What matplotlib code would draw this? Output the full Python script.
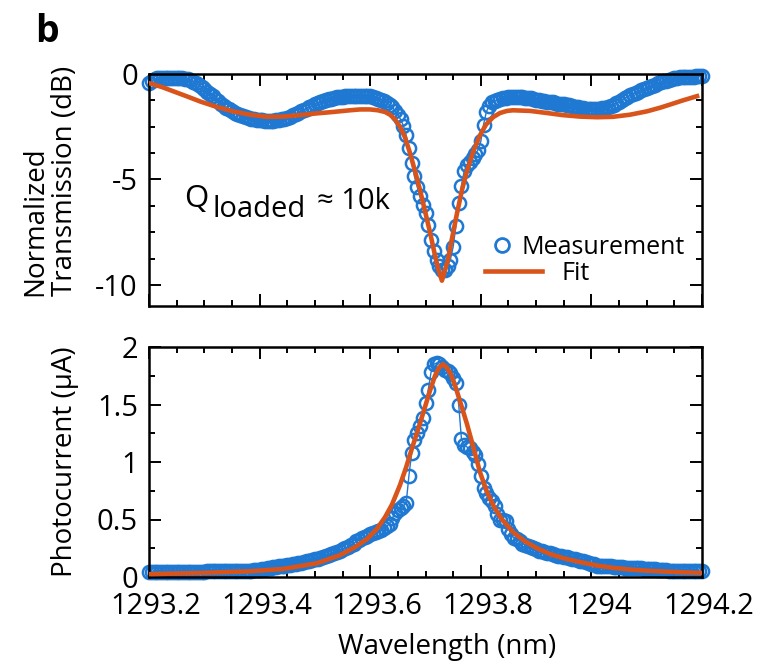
import numpy as np
import matplotlib
matplotlib.use("Agg")
import matplotlib.pyplot as plt
import matplotlib.transforms as mtransforms
from matplotlib.lines import Line2D
from matplotlib.ticker import MultipleLocator, FuncFormatter

plt.rcParams['font.family'] = ['Open Sans', 'DejaVu Sans']
plt.rcParams['axes.unicode_minus'] = False

# Wavelength sweep (nm): start and step of the uniform scan
wavelength_start = 1293.2
wavelength_step = 0.005

# Measured normalized transmission (dB), one value per sweep step
transmission_db = [
    -0.45, -0.31, -0.23, -0.21, -0.20, -0.19, -0.19, -0.18, -0.18, -0.19,
    -0.19, -0.20, -0.21, -0.23, -0.26, -0.30, -0.36, -0.44, -0.53, -0.62,
    -0.71, -0.83, -0.94, -1.06, -1.18, -1.28, -1.40, -1.50, -1.60, -1.68,
    -1.77, -1.84, -1.90, -1.95, -2.00, -2.04, -2.08, -2.11, -2.14, -2.17,
    -2.19, -2.20, -2.22, -2.22, -2.22, -2.22, -2.20, -2.18, -2.15, -2.11,
    -2.07, -2.02, -1.96, -1.90, -1.84, -1.77, -1.70, -1.64, -1.57, -1.50,
    -1.44, -1.39, -1.33, -1.28, -1.24, -1.20, -1.17, -1.14, -1.11, -1.09,
    -1.07, -1.05, -1.04, -1.04, -1.03, -1.03, -1.03, -1.03, -1.04, -1.04,
    -1.05, -1.08, -1.12, -1.17, -1.23, -1.30, -1.37, -1.46, -1.57, -1.75,
    -1.94, -2.15, -2.45, -2.90, -3.50, -4.20, -4.85, -5.35, -5.80, -6.20,
    -6.60, -7.15, -7.85, -8.40, -8.80, -9.10, -9.30, -9.30, -9.10, -8.80,
    -8.20, -7.20, -6.10, -5.30, -4.60, -4.30, -4.15, -4.00, -3.80, -3.60,
    -3.20, -2.40, -1.80, -1.50, -1.35, -1.28, -1.22, -1.18, -1.16, -1.14,
    -1.11, -1.10, -1.10, -1.10, -1.10, -1.11, -1.12, -1.14, -1.15, -1.18,
    -1.21, -1.24, -1.26, -1.29, -1.31, -1.33, -1.35, -1.37, -1.40, -1.42,
    -1.44, -1.46, -1.49, -1.52, -1.55, -1.58, -1.60, -1.62, -1.64, -1.65,
    -1.65, -1.65, -1.65, -1.65, -1.63, -1.60, -1.57, -1.53, -1.46, -1.39,
    -1.32, -1.25, -1.16, -1.08, -1.00, -0.94, -0.89, -0.83, -0.78, -0.72,
    -0.67, -0.61, -0.56, -0.50, -0.44, -0.39, -0.35, -0.31, -0.27, -0.24,
    -0.21, -0.18, -0.15, -0.14, -0.14, -0.13, -0.12, -0.12, -0.11, -0.11,
    -0.10,
]

# Measured photocurrent (uA), same sweep
photocurrent_ua = [
    0.040, 0.045, 0.045, 0.045, 0.045, 0.045, 0.045, 0.045, 0.045, 0.045,
    0.045, 0.045, 0.045, 0.045, 0.045, 0.045, 0.045, 0.045, 0.045, 0.045,
    0.045, 0.048, 0.048, 0.048, 0.048, 0.048, 0.048, 0.050, 0.050, 0.050,
    0.050, 0.050, 0.050, 0.050, 0.052, 0.054, 0.055, 0.056, 0.060, 0.062,
    0.065, 0.070, 0.073, 0.077, 0.080, 0.085, 0.090, 0.094, 0.098, 0.100,
    0.105, 0.108, 0.110, 0.115, 0.120, 0.122, 0.130, 0.135, 0.140, 0.148,
    0.155, 0.160, 0.168, 0.175, 0.183, 0.190, 0.197, 0.205, 0.215, 0.230,
    0.240, 0.250, 0.260, 0.275, 0.290, 0.310, 0.325, 0.335, 0.350, 0.360,
    0.370, 0.380, 0.390, 0.400, 0.410, 0.425, 0.440, 0.465, 0.510, 0.560,
    0.580, 0.600, 0.620, 0.640, 0.880, 1.080, 1.190, 1.250, 1.310, 1.380,
    1.510, 1.630, 1.780, 1.850, 1.860, 1.850, 1.830, 1.800, 1.790, 1.770,
    1.730, 1.690, 1.500, 1.200, 1.150, 1.130, 1.120, 1.090, 1.060, 0.980,
    0.880, 0.770, 0.730, 0.690, 0.660, 0.620, 0.550, 0.500, 0.500, 0.490,
    0.420, 0.370, 0.340, 0.330, 0.310, 0.290, 0.280, 0.270, 0.260, 0.250,
    0.240, 0.230, 0.225, 0.220, 0.210, 0.205, 0.200, 0.190, 0.185, 0.180,
    0.175, 0.170, 0.165, 0.160, 0.155, 0.150, 0.140, 0.135, 0.130, 0.120,
    0.115, 0.110, 0.100, 0.100, 0.098, 0.096, 0.094, 0.092, 0.090, 0.088,
    0.086, 0.084, 0.082, 0.081, 0.080, 0.078, 0.077, 0.076, 0.075, 0.073,
    0.072, 0.070, 0.068, 0.066, 0.064, 0.062, 0.060, 0.058, 0.056, 0.055,
    0.053, 0.052, 0.050, 0.050, 0.050, 0.050, 0.050, 0.050, 0.050, 0.050,
    0.050,
]

# Fitted transmission curve
fit_trans_nm = [
    1293.2000, 1293.2235, 1293.2470, 1293.2705, 1293.2922, 1293.3212,
    1293.3519, 1293.3826, 1293.4134, 1293.4423, 1293.4731, 1293.5020,
    1293.5327, 1293.5635, 1293.5816, 1293.5996, 1293.6141, 1293.6268,
    1293.6358, 1293.6448, 1293.6539, 1293.6629, 1293.6720, 1293.6810,
    1293.6901, 1293.6991, 1293.7081, 1293.7172, 1293.7226, 1293.7297,
    1293.7353, 1293.7407, 1293.7479, 1293.7570, 1293.7660, 1293.7750,
    1293.7859, 1293.7986, 1293.8094, 1293.8221, 1293.8347, 1293.8474,
    1293.8582, 1293.8890, 1293.9197, 1293.9486, 1293.9794, 1294.0101,
    1294.0391, 1294.0698, 1294.1005, 1294.1241, 1294.1421, 1294.1656,
    1294.1910,
]
fit_trans_db = [
    -0.43, -0.62, -0.85, -1.08, -1.30, -1.55,
    -1.77, -1.93, -2.03, -2.02, -1.95, -1.87,
    -1.80, -1.72, -1.68, -1.68, -1.72, -1.80,
    -1.93, -2.15, -2.50, -3.00, -3.75, -4.60,
    -5.50, -6.50, -7.50, -8.60, -9.20, -9.80,
    -9.30, -8.80, -7.80, -6.60, -5.50, -4.60,
    -3.70, -2.90, -2.40, -2.05, -1.85, -1.75,
    -1.72, -1.75, -1.85, -1.95, -2.02, -2.05,
    -2.03, -1.93, -1.77, -1.60, -1.45, -1.25,
    -1.05,
]

# Fitted photocurrent curve
fit_photo_nm = [
    1293.2000, 1293.2922, 1293.3826, 1293.4423, 1293.5038, 1293.5454,
    1293.5725, 1293.5942, 1293.6123, 1293.6268, 1293.6394, 1293.6539,
    1293.6647, 1293.6756, 1293.6864, 1293.6973, 1293.7081, 1293.7172,
    1293.7244, 1293.7316, 1293.7389, 1293.7461, 1293.7552, 1293.7642,
    1293.7750, 1293.7859, 1293.7986, 1293.8112, 1293.8239, 1293.8383,
    1293.8582, 1293.8799, 1293.9016, 1293.9251, 1293.9523, 1293.9794,
    1294.0101, 1294.0391, 1294.0698, 1294.1005, 1294.1421, 1294.2000,
]
fit_photo_ua = [
    0.025, 0.035, 0.050, 0.070, 0.120, 0.190,
    0.260, 0.330, 0.420, 0.520, 0.630, 0.800,
    0.950, 1.120, 1.280, 1.450, 1.620, 1.750,
    1.820, 1.850, 1.820, 1.760, 1.640, 1.500,
    1.330, 1.140, 0.910, 0.740, 0.610, 0.500,
    0.390, 0.310, 0.250, 0.200, 0.160, 0.130,
    0.100, 0.080, 0.065, 0.055, 0.045, 0.035,
]

x_ticks = [1293.2, 1293.4, 1293.6, 1293.8, 1294.0, 1294.2]

BLUE = '#1f78d2'
ORANGE = '#d9541a'

wavelength = wavelength_start + wavelength_step * np.arange(len(transmission_db))

W, H = 763, 667
fig = plt.figure(figsize=(W / 100, H / 100), dpi=100)

ax1 = fig.add_axes([149 / W, 1 - 306 / H, (702 - 149) / W, (306 - 74) / H])
ax2 = fig.add_axes([149 / W, 1 - 577 / H, (702 - 149) / W, (577 - 347) / H])

meas_style = dict(color=BLUE, marker='o', mfc='none', mec=BLUE, ms=9.5,
                  mew=1.8, lw=1.0, clip_on=False, zorder=2)
fit_style = dict(color=ORANGE, lw=3.3, zorder=3)

ax1.plot(wavelength, transmission_db, **meas_style)
ax1.plot(fit_trans_nm, fit_trans_db, **fit_style)

ax2.plot(wavelength, photocurrent_ua, **meas_style)
ax2.plot(fit_photo_nm, fit_photo_ua, **fit_style)

for ax in (ax1, ax2):
    ax.set_xlim(1293.2, 1294.2)
    ax.set_xticks(x_ticks)
    ax.xaxis.set_minor_locator(MultipleLocator(0.05))
    ax.tick_params(which='both', direction='in', top=True, right=True,
                   width=1.4, labelsize=21, pad=8)
    ax.tick_params(which='major', length=8.5)
    ax.tick_params(which='minor', length=4.3)
    ax.tick_params(axis='x', pad=11)
    for s in ax.spines.values():
        s.set_linewidth(1.8)

ax1.set_ylim(-11, 0)
ax1.set_yticks([0, -5, -10])
ax1.yaxis.set_minor_locator(MultipleLocator(1.25))
ax1.tick_params(labelbottom=False)

ax2.set_ylim(0, 2)
ax2.set_yticks([0, 0.5, 1, 1.5, 2])
ax2.yaxis.set_minor_locator(MultipleLocator(0.25))
ax2.yaxis.set_major_formatter(FuncFormatter(lambda v, p: f"{v:g}"))
ax2.xaxis.set_major_formatter(FuncFormatter(lambda v, p: f"{v:g}"))

shift = mtransforms.ScaledTranslation(7 / 100, 0, fig.dpi_scale_trans)
for lbl in ax2.get_xticklabels():
    lbl.set_transform(lbl.get_transform() + shift)

# Axis titles
fig.text(50 / W, 1 - 181 / H, "Normalized\nTransmission (dB)", rotation=90,
         ha='center', va='center', multialignment='left', fontsize=20,
         linespacing=1.05)
fig.text(65 / W, 1 - 462 / H, "Photocurrent (µA)", rotation=90,
         ha='center', va='center', fontsize=20)
fig.text(447 / W, 1 - 654 / H, "Wavelength (nm)", ha='center',
         va='baseline', fontsize=20)

# Panel letter
fig.text(35 / W, 1 - 42 / H, "b", fontsize=27, fontweight='bold',
         va='baseline', ha='left')

# Quality factor annotation
ax1.text(1293.263, -6.30, "Q", fontsize=22.5, va='baseline', ha='left')
ax1.text(1293.314, -6.79, "loaded", fontsize=21, va='baseline', ha='left')
ax1.text(1293.504, -6.40, "≈ 10k", fontsize=21, va='baseline', ha='left')

# Legend entries
h_meas = Line2D([], [], linestyle='none', marker='o', mfc='none', mec=BLUE,
                ms=10, mew=2.0)
h_fit = Line2D([], [], color=ORANGE, lw=3.3)
leg1 = ax1.legend([h_meas], ["Measurement"], loc='center left',
                  bbox_to_anchor=(492 / W, 1 - 247 / H),
                  bbox_transform=fig.transFigure, frameon=False,
                  handlelength=0.8, handletextpad=0.4, borderpad=0,
                  borderaxespad=0, fontsize=18)
ax1.add_artist(leg1)
ax1.legend([h_fit], ["Fit"], loc='center left',
           bbox_to_anchor=(485 / W, 1 - 273 / H),
           bbox_transform=fig.transFigure, frameon=False,
           handlelength=2.28, handletextpad=0.8, borderpad=0,
           borderaxespad=0, fontsize=18)

fig.savefig("out.png", dpi=100)
